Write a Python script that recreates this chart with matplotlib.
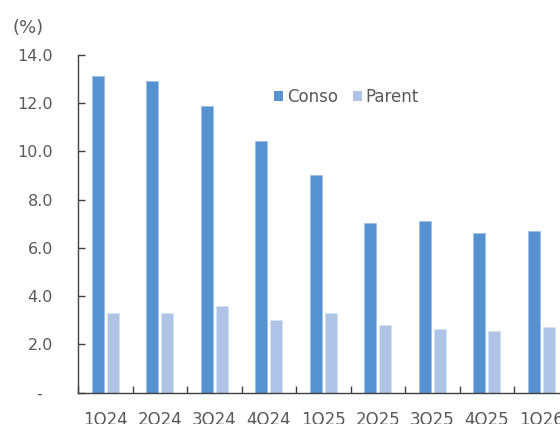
import matplotlib
matplotlib.use("Agg")
import matplotlib.pyplot as plt
from matplotlib.patches import Patch
import numpy as np

categories = ["1Q24", "2Q24", "3Q24", "4Q24", "1Q25", "2Q25", "3Q25", "4Q25", "1Q26"]
conso = [13.13, 12.90, 11.87, 10.44, 9.01, 7.01, 7.11, 6.61, 6.70]
parent = [3.30, 3.30, 3.61, 3.00, 3.32, 2.80, 2.62, 2.55, 2.70]
yticks = [0, 2, 4, 6, 8, 10, 12, 14]
ytick_labels = ["-  ", "2.0", "4.0", "6.0", "8.0", "10.0", "12.0", "14.0"]

C_CONSO = "#5592CF"
C_PARENT = "#AEC3E6"
TXT = "#595959"

plt.rcParams['font.family'] = ['DejaVu Sans']
W, H = 560, 424
fig = plt.figure(figsize=(W / 100, H / 100), dpi=100)
left, bottom = 78 / W, (H - 392.7) / H
width = 9 * 54.5 / W
height = (392.7 - 54.6) / H
ax = fig.add_axes([left, bottom, width, height])

x = np.arange(len(categories))
bw = 0.225
off = 0.139
ax.bar(x - off, conso, bw, color=C_CONSO, edgecolor="#9CC0E8", linewidth=0.6, zorder=2)
ax.bar(x + off, parent, bw, color=C_PARENT, edgecolor="#D6E2F4", linewidth=0.6, zorder=2)

ax.set_xlim(-0.5, len(categories) - 0.5)
ax.set_ylim(0, 14)
ax.set_yticks(yticks)
ax.set_yticklabels(ytick_labels)
ax.set_xticks(np.arange(len(categories) + 1) - 0.5, minor=False)
ax.set_xticklabels([])
ax.set_xticks(x, minor=True)
ax.set_xticklabels(categories, minor=True)

for s in ["top", "right"]:
    ax.spines[s].set_visible(False)
for s in ["left", "bottom"]:
    ax.spines[s].set_color("#404040")
    ax.spines[s].set_linewidth(1.0)

ax.tick_params(axis="y", direction="in", length=5, width=1, color="#404040",
               labelsize=11.5, labelcolor=TXT, pad=18)
ax.tick_params(axis="x", which="major", direction="in", length=5, width=1, color="#404040")
ax.tick_params(axis="x", which="minor", length=0, labelsize=12, labelcolor=TXT, pad=13)

fig.text(13 / W, 1 - 28 / H, "(%)", fontsize=13, color=TXT, va="center", ha="left")

handles = [Patch(facecolor=C_CONSO, edgecolor="none"), Patch(facecolor=C_PARENT, edgecolor="none")]
fig.legend(handles, ["Conso", "Parent"], loc="center left",
           bbox_to_anchor=(274 / W, 1 - 97 / H), ncol=2, frameon=False,
           handlelength=0.55, handleheight=0.55, handletextpad=0.25, columnspacing=0.85,
           borderpad=0, borderaxespad=0, prop={"size": 12}, labelcolor=TXT)

fig.savefig("out.png", dpi=100)
